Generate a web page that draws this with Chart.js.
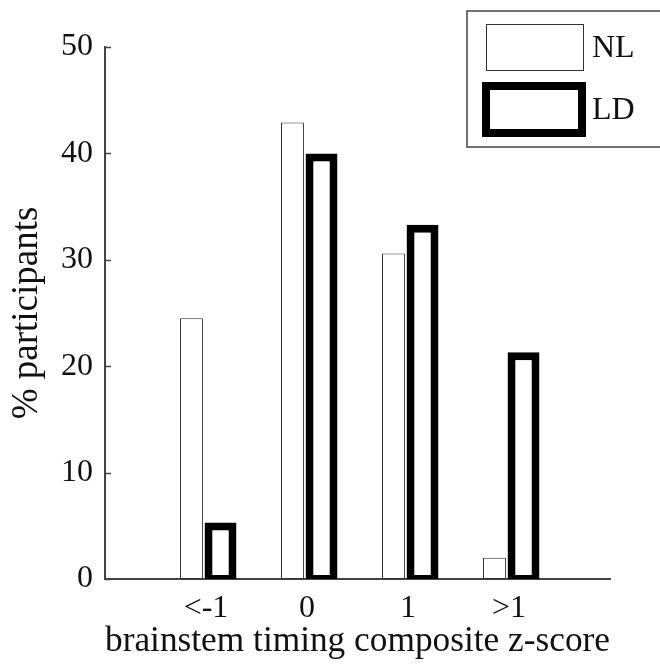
<!DOCTYPE html>
<html>
<head>
<meta charset="utf-8">
<script src="https://cdn.jsdelivr.net/npm/chart.js@4"></script>
<style>
  body { margin: 0; background: #fff; }
</style>
</head>
<body>
<canvas id="zchart" width="660" height="667"></canvas>
<script>
// z-score bins and % participants per group
const categories = ['<-1', '0', '1', '>1'];
const nlValues = [24.5, 42.9, 30.6, 2.0];
const ldValues = [5.3, 40.0, 33.3, 21.3];
const yTicks = [0, 10, 20, 30, 40, 50];

const serif = "'Liberation Serif', 'Times New Roman', serif";

// bins sit at x = 1..4 on a linear axis running 0..5
const toPoints = (vals) => vals.map((v, i) => ({ x: i + 1, y: v }));

// legend box + inward tick marks, matlab style
const figureExtras = {
  id: 'figureExtras',
  afterDraw(chart) {
    const ctx = chart.ctx;
    const y = chart.scales.y;
    ctx.save();
    ctx.strokeStyle = '#444';
    ctx.lineWidth = 1.5;
    yTicks.forEach(t => {
      const py = Math.round(y.getPixelForValue(t)) + 0.5;
      ctx.beginPath();
      ctx.moveTo(y.right, py);
      ctx.lineTo(y.right + 6, py);
      ctx.stroke();
    });

    // legend frame
    ctx.fillStyle = '#fff';
    ctx.fillRect(467, 11, 200, 136);
    ctx.strokeStyle = '#444';
    ctx.lineWidth = 1.5;
    ctx.strokeRect(467, 11, 200, 136);

    const ds = chart.data.datasets;
    // NL swatch
    ctx.strokeStyle = '#333';
    ctx.lineWidth = 1;
    ctx.strokeRect(486.5, 24.5, 97, 46);
    // LD swatch
    ctx.strokeStyle = '#000';
    ctx.lineWidth = 8;
    ctx.strokeRect(486, 86, 96, 47);

    ctx.fillStyle = '#111';
    ctx.font = '32px ' + serif;
    ctx.textBaseline = 'middle';
    ctx.textAlign = 'left';
    ctx.fillText(ds[0].label, 592, 49);
    ctx.fillText(ds[1].label, 592, 111);
    ctx.restore();
  }
};

new Chart(document.getElementById('zchart'), {
  type: 'bar',
  data: {
    datasets: [
      {
        label: 'NL',
        data: toPoints(nlValues),
        backgroundColor: '#fff',
        borderColor: '#333',
        borderWidth: 1,
        borderSkipped: false,
        barPercentage: 0.79
      },
      {
        label: 'LD',
        data: toPoints(ldValues),
        backgroundColor: '#fff',
        borderColor: '#000',
        borderWidth: { top: 8, left: 8, right: 8, bottom: 4 },
        borderSkipped: false,
        barPercentage: 1.1
      }
    ]
  },
  options: {
    responsive: false,
    animation: false,
    categoryPercentage: 0.575,
    layout: { padding: { top: 47, right: 50, left: 0, bottom: 0 } },
    plugins: {
      legend: { display: false },
      tooltip: { enabled: false }
    },
    scales: {
      x: {
        type: 'linear',
        offset: false,
        min: 0,
        max: 5,
        grid: { display: false, drawTicks: false },
        border: { display: true, color: '#444', width: 2 },
        ticks: {
          stepSize: 1,
          autoSkip: false,
          maxRotation: 0,
          padding: 10,
          color: '#111',
          font: { family: serif, size: 32 },
          callback: (v) => categories[v - 1] || ''
        },
        title: {
          display: true,
          text: 'brainstem timing composite z-score',
          color: '#111',
          font: { family: serif, size: 36 },
          padding: { top: 4 }
        },
        afterFit: (s) => { s.height = 88; }
      },
      y: {
        min: 0,
        max: 50,
        grid: { display: false, drawTicks: false },
        border: { display: true, color: '#444', width: 2 },
        ticks: {
          stepSize: 10,
          padding: 12,
          color: '#111',
          font: { family: serif, size: 32 }
        },
        title: {
          display: true,
          text: '% participants',
          color: '#111',
          font: { family: serif, size: 37 },
          padding: { top: 5, bottom: 0 }
        },
        afterFit: (s) => { s.width = 105; }
      }
    }
  },
  plugins: [figureExtras]
});
</script>
</body>
</html>
